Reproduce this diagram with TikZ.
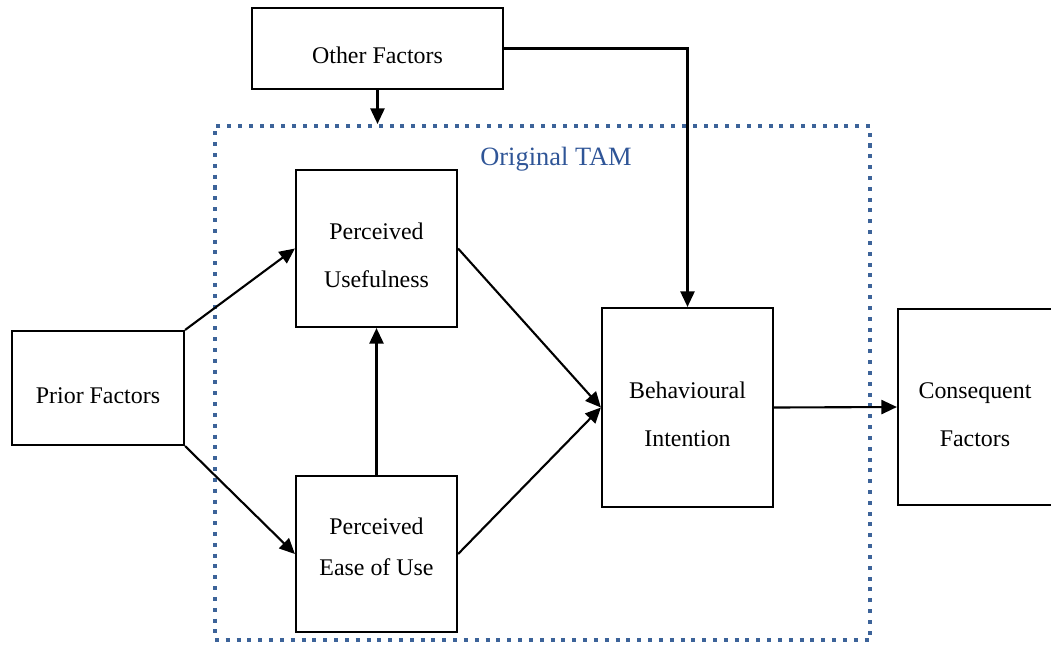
\documentclass[tikz,border=0pt]{standalone}
\usepackage{fontspec}
\setmainfont{Liberation Serif}
\usetikzlibrary{shapes,arrows.meta}
\definecolor{tamblue}{HTML}{2F5597}
\definecolor{tamdots}{HTML}{3C6399}
\newcommand{\boxstrut}{\rule{0pt}{22pt}}
\newcommand{\boxdrop}{\rule[-10pt]{0pt}{10pt}}
\begin{document}
\begin{tikzpicture}[x=0.025cm,y=-0.025cm,
  box/.style={draw,line width=1.5pt,align=center,inner sep=0,font=\fontsize{17}{34}\selectfont},
  arr/.style={line width=1.5pt,-{Triangle[length=11pt,width=10pt]}},
  tamframe/.style={draw=tamdots,line width=2.85pt,dash pattern=on 2.85pt off 4.85pt,minimum width=16.375cm,minimum height=12.85cm}]
\useasboundingbox(0,0)rectangle(1051,646);
\node[tamframe](TAM)at(542.5,383){};
\node[text=tamblue,font=\fontsize{18.8}{22}\selectfont](TAMlabel)at(556,159){Original TAM};
\node[box,minimum width=6.275cm,minimum height=2.025cm](OF)at(377.5,48.5){\boxstrut Other Factors};
\node[box,minimum width=4.3cm,minimum height=2.85cm](PF)at(98,388){\boxstrut Prior Factors};
\node[box,minimum width=4.025cm,minimum height=3.925cm](PU)at(376.5,248.5){\boxstrut Perceived\\Usefulness};
\node[box,minimum width=4.025cm,minimum height=3.9cm,font=\fontsize{17}{29}\selectfont](PEOU)at(376.5,554){Perceived\\Ease of Use\boxdrop};
\node[box,minimum width=4.275cm,minimum height=4.975cm](BI)at(687.5,407.5){\boxstrut Behavioural\\Intention};
\node[box,minimum width=3.85cm,minimum height=4.9cm](CF)at(975,407){\boxstrut Consequent\\Factors};
\draw[arr](OF.south)--(OF.south|-TAM.north);
\draw[arr](OF.east)-|(BI.north);
\draw[arr](PF.north east)--(PU.west);
\draw[arr](PF.south east)--(PEOU.west);
\draw[arr](PEOU.north)--(PU.south);
\draw[arr](PU.east)--(BI.west);
\draw[arr](PEOU.east)--(BI.west);
\draw[arr](BI.east)--(CF.west);
\end{tikzpicture}
\end{document}
